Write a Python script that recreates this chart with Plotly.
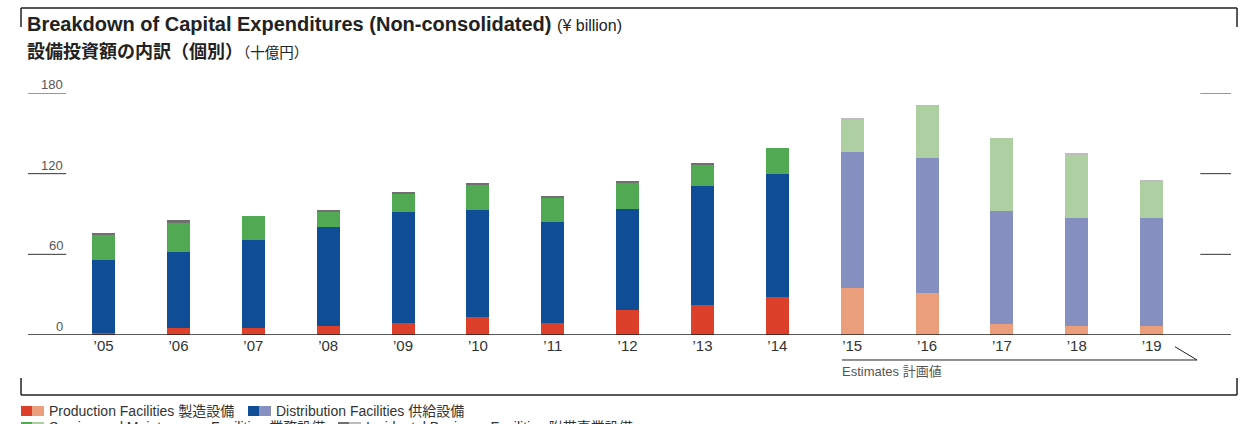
import plotly.graph_objects as go

# Daten (Milliarden Yen)
years = ["’05", "’06", "’07", "’08", "’09", "’10", "’11", "’12", "’13", "’14",
         "’15", "’16", "’17", "’18", "’19"]
is_estimate = [False] * 10 + [True] * 5
production = [1.5, 5.5, 5.5, 7.0, 8.9, 13.5, 9.0, 18.7, 22.4, 28.4, 35.1, 31.4, 8.2, 6.7, 6.7]
distribution = [54.4, 56.3, 65.3, 73.4, 82.7, 79.2, 74.7, 74.7, 88.2, 91.2, 100.9, 100.1, 83.7, 80.0, 80.0]
service = [18.6, 21.6, 17.8, 11.2, 13.9, 19.4, 17.9, 20.2, 16.5, 19.4, 24.4, 38.9, 54.6, 47.3, 27.2]
other = [0.7, 2.2, 0.0, 0.8, 1.0, 0.8, 1.5, 0.7, 0.7, 0.0, 0.5, 0.3, 0.0, 0.8, 0.7]
y_ticks = [0, 60, 120, 180]

FONT = "Liberation Sans, 'Noto Sans CJK JP', sans-serif"

# Farben: (Ist, Plan)
colors = {
    "production": ("#DC3F2A", "#EB9E7C"),
    "distribution": ("#0F4E96", "#8590C0"),
    "service": ("#52A953", "#ADCFA2"),
    "other": ("#707070", "#BDBDBD"),
}

x_idx = list(range(len(years)))
fig = go.Figure()

for key, vals in [("production", production), ("distribution", distribution),
                  ("service", service), ("other", other)]:
    dark, light = colors[key]
    fig.add_trace(go.Bar(
        x=x_idx, y=vals, width=0.307,
        marker=dict(color=[light if e else dark for e in is_estimate], line=dict(width=0)),
        showlegend=False, hoverinfo="skip",
    ))

X0, X1 = -1.01, 15.06

fig.update_layout(
    barmode="stack",
    width=1241, height=424,
    margin=dict(l=28, r=10, t=93, b=89),
    paper_bgcolor="white", plot_bgcolor="white",
    font=dict(family=FONT, color="#333"),
    xaxis=dict(range=[X0, X1], tickvals=x_idx, ticktext=years, showgrid=False,
               zeroline=False, showline=False, ticks="",
               tickfont=dict(size=15, color="#333")),
    yaxis=dict(range=[0, 180], showgrid=False, zeroline=False, showline=False,
               showticklabels=False, ticks=""),
)

# Grundlinie
fig.add_shape(type="line", xref="paper", yref="y", x0=0, x1=1, y0=0, y1=0,
              line=dict(color="#222", width=1.5))

# kurze Rasterlinien links und rechts + Beschriftungen
for v in y_ticks:
    if v > 0:
        fig.add_shape(type="line", xref="x", yref="y", x0=X0, x1=-0.5, y0=v, y1=v,
                      line=dict(color="#333", width=1))
        fig.add_shape(type="line", xref="x", yref="y", x0=14.65, x1=X1, y0=v, y1=v,
                      line=dict(color="#333", width=1))
    fig.add_annotation(x=-0.52, y=v, xref="x", yref="y", text=str(v), showarrow=False,
                       xanchor="right", yanchor="bottom", yshift=-1,
                       font=dict(size=13, color="#555"))

# Rahmen oben/unten
frame = dict(color="#222", width=1.5)
top, top_end = 1.351, 1.273
bot, bot_end = -0.248, -0.178
xl, xr = -0.0058, 1.005
for (ax0, ay0, ax1, ay1) in [(xl, top, xr, top), (xl, top, xl, top_end), (xr, top, xr, top_end),
                             (xl, bot, xr, bot), (xl, bot, xl, bot_end), (xr, bot, xr, bot_end)]:
    fig.add_shape(type="line", xref="paper", yref="paper", x0=ax0, y0=ay0, x1=ax1, y1=ay1,
                  line=frame)

# Plan-Klammer
fig.add_shape(type="line", xref="paper", yref="paper", x0=0.6766, x1=0.9718,
              y0=-0.1033, y1=-0.1033, line=dict(color="#222", width=1))
fig.add_shape(type="line", xref="paper", yref="paper", x0=0.9534, x1=0.9718,
              y0=-0.0483, y1=-0.1033, line=dict(color="#222", width=1))
fig.add_annotation(x=0.6766, y=-0.149, xref="paper", yref="paper", text="Estimates 計画値",
                   showarrow=False, xanchor="left", yanchor="middle", xshift=-2,
                   font=dict(size=13, color="#555"))

# Titel
fig.add_annotation(x=0, y=1.285, xref="paper", yref="paper", showarrow=False,
                   xanchor="left", yanchor="middle", xshift=-3,
                   text="<b>Breakdown of Capital Expenditures (Non-consolidated)</b>"
                        " <span style='font-size:16px'>(¥ billion)</span>",
                   font=dict(size=20, color="#222"))
fig.add_annotation(x=0, y=1.169, xref="paper", yref="paper", showarrow=False,
                   xanchor="left", yanchor="middle", xshift=-3,
                   text="<b>設備投資額の内訳（個別）</b><span style='font-size:14.5px'>（十億円）</span>",
                   font=dict(size=18, color="#222"))

# Legende (manuell)
def px_x(p):
    return (p - 28) / 1203


def px_y(p):
    return (335 - p) / 242


legend_items = [
    ("production", "Production Facilities 製造設備", 21, 411),
    ("distribution", "Distribution Facilities 供給設備", 248, 411),
    ("service", "Service and Maintenance Facilities 業務設備", 21, 427),
    ("other", "Incidental Business Facilities 附帯事業設備", 338, 427),
]
for key, label, sx, sy in legend_items:
    dark, light = colors[key]
    fig.add_shape(type="rect", xref="paper", yref="paper", x0=px_x(sx), x1=px_x(sx + 11),
                  y0=px_y(sy - 5), y1=px_y(sy + 5), fillcolor=dark, line=dict(width=0))
    fig.add_shape(type="rect", xref="paper", yref="paper", x0=px_x(sx + 11), x1=px_x(sx + 23),
                  y0=px_y(sy - 5), y1=px_y(sy + 5), fillcolor=light, line=dict(width=0))
    fig.add_annotation(x=px_x(sx + 28), y=px_y(sy), xref="paper", yref="paper", text=label,
                       showarrow=False, xanchor="left", yanchor="middle", xshift=-2,
                       font=dict(size=14, color="#333"))

# Seitenrand entfernen, damit die Grafik bei (0,0) beginnt
fig.write_html("out.html", config={"displayModeBar": False},
               post_script="document.body.style.margin='0';")
